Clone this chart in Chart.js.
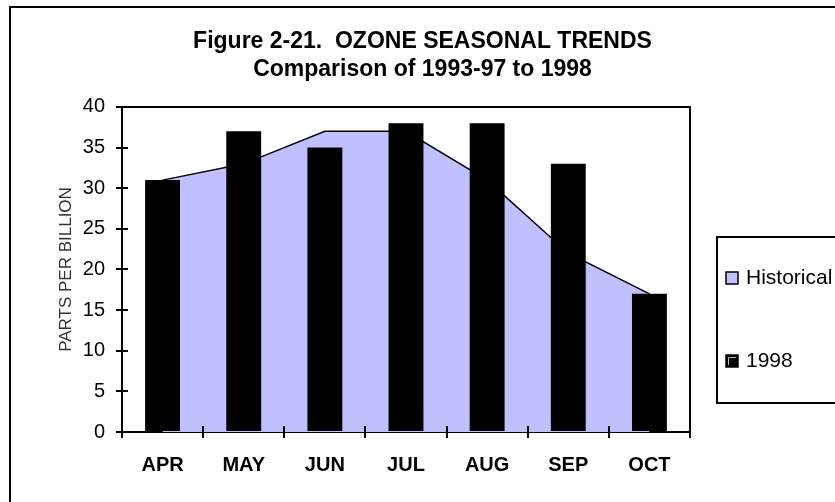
<!DOCTYPE html>
<html><head><meta charset="utf-8">
<script src="https://cdn.jsdelivr.net/npm/chart.js@4/dist/chart.umd.min.js"></script>
<style>html,body{margin:0;padding:0;background:#fff;} #wrap{position:relative;width:835px;height:502px;}</style>
</head><body><div id="wrap"><canvas id="c" width="835" height="502"></canvas></div>
<script>
const months = ['APR','MAY','JUN','JUL','AUG','SEP','OCT'];
const historical = [31, 33, 37, 37, 31, 22, 17];
const y1998 = [31, 37, 35, 38, 38, 33, 17];
const yTickMin = 0, yTickMax = 40, yTickStep = 5;
const titleLines = ['Figure 2-21.  OZONE SEASONAL TRENDS', 'Comparison of 1993-97 to 1998'];
const yTitle = 'PARTS PER BILLION';
const seriesNames = ['Historical', '1998'];
const seriesColors = ['#C0C0FF', '#000000'];

const FONT = '"Liberation Sans", Arial, sans-serif';

const decor = {
  id: 'decor',
  afterDraw(chart) {
    const ctx = chart.ctx;
    const a = chart.chartArea;
    const xs = chart.scales.x, ys = chart.scales.y;
    ctx.save();
    ctx.strokeStyle = '#000';
    ctx.lineWidth = 2;
    // outer chart border
    ctx.beginPath();
    ctx.moveTo(10, 900); ctx.lineTo(10, 7); ctx.lineTo(900, 7);
    ctx.stroke();
    // plot frame top and right
    ctx.beginPath();
    ctx.moveTo(a.left, a.top); ctx.lineTo(a.right, a.top); ctx.lineTo(a.right, a.bottom);
    ctx.stroke();
    // inner tick stubs
    ctx.beginPath();
    ys.ticks.forEach(t => {
      const py = Math.round(ys.getPixelForValue(t.value));
      ctx.moveTo(a.left, py); ctx.lineTo(a.left + 6, py);
    });
    for (let i = 0; i <= months.length; i++) {
      const px = Math.round(xs.getPixelForValue(i - 0.5));
      ctx.moveTo(px, a.bottom); ctx.lineTo(px, a.bottom - 6);
    }
    ctx.stroke();
    // legend
    const lx = 717, ly = 237, lw = 200, lh = 166;
    ctx.strokeRect(lx, ly, lw, lh);
    ctx.font = '21px ' + FONT;
    ctx.textBaseline = 'middle';
    ctx.textAlign = 'left';
    const rowY = [278, 361];
    chart.data.datasets.forEach((ds, i) => {
      const cy = rowY[i];
      ctx.fillStyle = ds.backgroundColor;
      ctx.fillRect(726, cy - 6, 12, 12);
      ctx.lineWidth = 1.5;
      ctx.strokeStyle = '#000';
      ctx.strokeRect(726, cy - 6, 12, 12);
      if (i === 1) {
        ctx.strokeStyle = '#bbb';
        ctx.lineWidth = 1;
        ctx.beginPath();
        ctx.moveTo(728.5, cy + 4); ctx.lineTo(728.5, cy - 3.5); ctx.lineTo(736, cy - 3.5);
        ctx.stroke();
      }
      ctx.fillStyle = '#000';
      ctx.fillText(ds.label, 746, cy);
    });
    ctx.restore();
  }
};

new Chart(document.getElementById('c'), {
  type: 'bar',
  data: {
    labels: months,
    datasets: [
      { type: 'line', label: seriesNames[0], data: historical, fill: 'origin',
        backgroundColor: seriesColors[0], borderColor: '#000', borderWidth: 1.5,
        pointRadius: 0, tension: 0, order: 2 },
      { type: 'bar', label: seriesNames[1], data: y1998, backgroundColor: seriesColors[1],
        borderWidth: 0, barPercentage: 0.43, categoryPercentage: 1, order: 1 }
    ]
  },
  options: {
    responsive: false,
    animation: false,
    devicePixelRatio: 1,
    layout: { padding: { left: 10, top: 0, right: 0, bottom: 0 } },
    plugins: {
      legend: { display: false },
      tooltip: { enabled: false },
      title: {
        display: true, text: titleLines, color: '#000',
        font: { family: FONT, size: 23, weight: 'bold', lineHeight: 1.217 },
        padding: { top: 28, bottom: 23 }
      }
    },
    scales: {
      x: {
        offset: true,
        grid: { offset: true, drawOnChartArea: false, drawTicks: true, tickLength: 6, color: '#000', lineWidth: 2 },
        border: { display: true, color: '#000', width: 2 },
        ticks: { font: { family: FONT, size: 20, weight: 'bold' }, color: '#000', padding: 15, maxRotation: 0, autoSkip: false },
        afterFit: s => { s.height = 70; }
      },
      y: {
        min: yTickMin, max: yTickMax,
        grid: { drawOnChartArea: false, drawTicks: true, tickLength: 6, color: '#000', lineWidth: 2 },
        border: { display: true, color: '#000', width: 2 },
        ticks: { stepSize: yTickStep, font: { family: FONT, size: 20 }, color: '#000', padding: 11 },
        title: { display: true, text: yTitle, color: '#333', font: { family: FONT, size: 17 }, padding: { top: 46, bottom: 0 } },
        afterFit: s => { s.width = 112; }
      },
      y2: {
        type: 'linear', position: 'right', display: true,
        grid: { display: false }, border: { display: false }, ticks: { display: false },
        afterFit: s => { s.width = 145; }
      }
    }
  },
  plugins: [decor]
});
</script>
</body></html>
